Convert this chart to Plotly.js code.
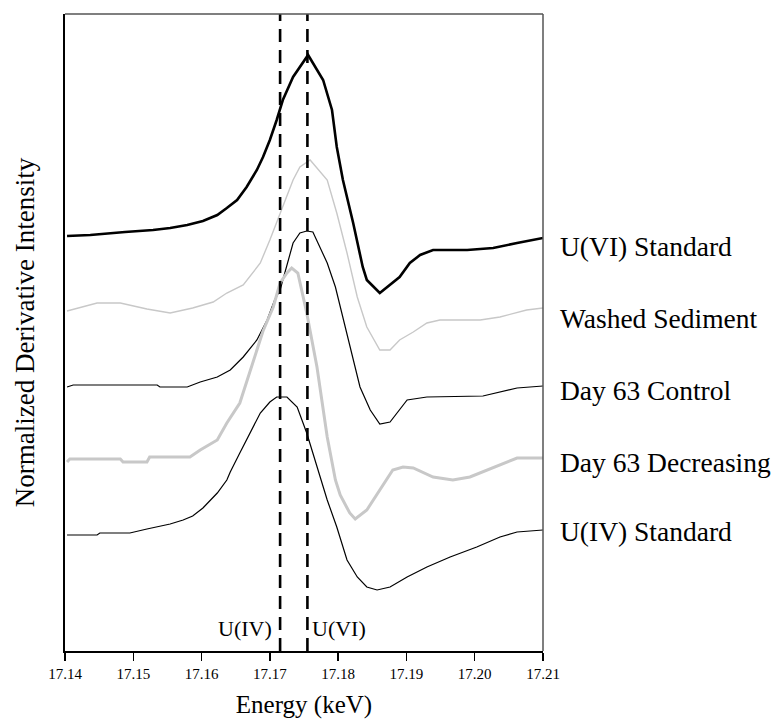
<!DOCTYPE html>
<html>
<head>
<meta charset="utf-8">
<script src="https://cdn.plot.ly/plotly-3.0.1.min.js"></script>
<style>
html,body{margin:0;padding:0;background:#fff;}
#chart{width:778px;height:720px;}
</style>
</head>
<body>
<div id="chart"></div>
<script>
// Energy (keV) and offset normalized derivative intensity for each spectrum
const uviEnergy = [17.1403,17.1437,17.1488,17.1529,17.1554,17.1579,17.1602,17.1623,17.1637,17.1652,17.1666,17.1681,17.1690,17.1700,17.1710,17.1715,17.1719,17.1734,17.1744,17.1756,17.1778,17.1791,17.1798,17.1807,17.1822,17.1836,17.1842,17.1861,17.1890,17.1905,17.1920,17.1939,17.1989,17.2027,17.2062,17.2100];
const uviValue  = [415,416,419,421,423,426,430,436,443,451,464,481,494,511,531,541,551,574,584,596,571,541,504,471,428,384,371,358,374,388,396,401,401,403,408,413];

const washedEnergy = [17.1403,17.1447,17.1481,17.1520,17.1554,17.1587,17.1617,17.1637,17.1661,17.1686,17.1700,17.1715,17.1734,17.1744,17.1759,17.1784,17.1798,17.1813,17.1828,17.1842,17.1861,17.1876,17.1890,17.1910,17.1930,17.1949,17.2008,17.2037,17.2076,17.2100];
const washedValue  = [340,348,348,342,338,343,349,358,366,388,411,438,471,484,491,471,438,398,354,324,301,301,311,319,328,331,331,334,341,343];

const controlEnergy = [17.1403,17.1412,17.1535,17.1539,17.1579,17.1598,17.1623,17.1642,17.1661,17.1681,17.1696,17.1707,17.1715,17.1734,17.1744,17.1754,17.1763,17.1784,17.1796,17.1808,17.1818,17.1832,17.1847,17.1861,17.1876,17.1901,17.1930,17.2012,17.2062,17.2100];
const controlValue  = [264,266,266,264,264,269,274,281,294,311,331,351,361,408,418,420,419,388,364,331,304,264,241,227,229,251,254,255,263,265];

const decreasingEnergy = [17.1403,17.1407,17.1481,17.1485,17.1520,17.1524,17.1583,17.1598,17.1623,17.1637,17.1656,17.1671,17.1690,17.1705,17.1715,17.1725,17.1732,17.1741,17.1754,17.1769,17.1784,17.1796,17.1803,17.1817,17.1825,17.1842,17.1861,17.1880,17.1895,17.1910,17.1939,17.1968,17.1993,17.2018,17.2047,17.2062,17.2100];
const decreasingValue  = [189,192,192,189,189,194,194,201,211,228,248,279,320,344,368,378,383,378,338,284,214,171,156,138,132,141,161,181,184,183,174,171,174,181,189,193,193];

const uivEnergy = [17.1403,17.1447,17.1451,17.1495,17.1520,17.1554,17.1573,17.1587,17.1602,17.1623,17.1637,17.1642,17.1656,17.1666,17.1686,17.1700,17.1710,17.1725,17.1740,17.1754,17.1769,17.1784,17.1798,17.1813,17.1828,17.1842,17.1857,17.1876,17.1901,17.1930,17.1964,17.2003,17.2037,17.2062,17.2100];
const uivValue  = [116,116,118,118,122,127,131,135,143,158,171,179,198,211,238,249,254,254,244,218,184,151,124,91,74,64,61,64,74,84,94,104,114,119,121];

const seriesNames = ["U(VI) Standard","Washed Sediment","Day 63 Control","Day 63 Decreasing","U(IV) Standard"];
const labelValues = [405,333,261,189,120];

const refEnergies = [17.1715,17.1755];
const refNames = ["U(IV)","U(VI)"];
const yRange = [0,637];

const tickVals = [17.14,17.15,17.16,17.17,17.18,17.19,17.20,17.21];
const tickText = ["17.14","17.15","17.16","17.17","17.18","17.19","17.20","17.21"];

const serif = "Liberation Serif, Times New Roman, serif";

const traces = [
  {x: uviEnergy, y: uviValue, name: seriesNames[0], mode:"lines", line:{color:"#000000", width:2.6}},
  {x: washedEnergy, y: washedValue, name: seriesNames[1], mode:"lines", line:{color:"#c8c8c8", width:1.4}},
  {x: controlEnergy, y: controlValue, name: seriesNames[2], mode:"lines", line:{color:"#000000", width:1.2}},
  {x: decreasingEnergy, y: decreasingValue, name: seriesNames[3], mode:"lines", line:{color:"#c8c8c8", width:3}},
  {x: uivEnergy, y: uivValue, name: seriesNames[4], mode:"lines", line:{color:"#000000", width:1.2}}
];
refEnergies.forEach((e,i)=>{
  traces.push({x:[e,e], y:yRange, name:refNames[i], mode:"lines", line:{color:"#000000", width:2.6, dash:"13px,8px"}, hoverinfo:"skip"});
});

const annotations = seriesNames.map((n,i)=>({
  xref:"paper", x:1, yref:"y", y:labelValues[i], xanchor:"left", yanchor:"middle",
  xshift:15, text:n, showarrow:false, font:{family:serif, size:27.5, color:"#000"}
}));
annotations.push({xref:"x", x:refEnergies[0], yref:"y", y:23, xanchor:"right", yanchor:"middle", xshift:-6, text:refNames[0], showarrow:false, font:{family:serif, size:22, color:"#000"}});
annotations.push({xref:"x", x:refEnergies[1], yref:"y", y:23, xanchor:"left", yanchor:"middle", xshift:3, text:refNames[1], showarrow:false, font:{family:serif, size:22, color:"#000"}});

const layout = {
  width:778, height:720,
  margin:{l:65, r:235, t:14, b:69},
  paper_bgcolor:"#fff", plot_bgcolor:"#fff",
  showlegend:false,
  xaxis:{
    range:[17.14,17.21], tickvals:tickVals, ticktext:tickText,
    ticks:"outside", ticklen:8, tickwidth:1.5, tickcolor:"#000",
    showline:true, linecolor:"#000", linewidth:2, showgrid:false, zeroline:false,
    tickfont:{family:serif, size:15, color:"#000"},
    title:{text:"Energy (keV)", font:{family:serif, size:25, color:"#000"}, standoff:14}
  },
  yaxis:{
    range:yRange, showticklabels:false, ticks:"", showgrid:false, zeroline:false,
    showline:true, linecolor:"#000", linewidth:2,
    title:{text:"Normalized Derivative Intensity", font:{family:serif, size:27, color:"#000"}, standoff:21}
  },
  shapes:[
    {type:"line", xref:"paper", yref:"paper", x0:0, x1:1, y0:1, y1:1, line:{color:"#555", width:1.5}},
    {type:"line", xref:"paper", yref:"paper", x0:1, x1:1, y0:0, y1:1, line:{color:"#555", width:1.5}}
  ],
  annotations:annotations
};

Plotly.newPlot("chart", traces, layout, {displayModeBar:false, staticPlot:true});
</script>
</body>
</html>
